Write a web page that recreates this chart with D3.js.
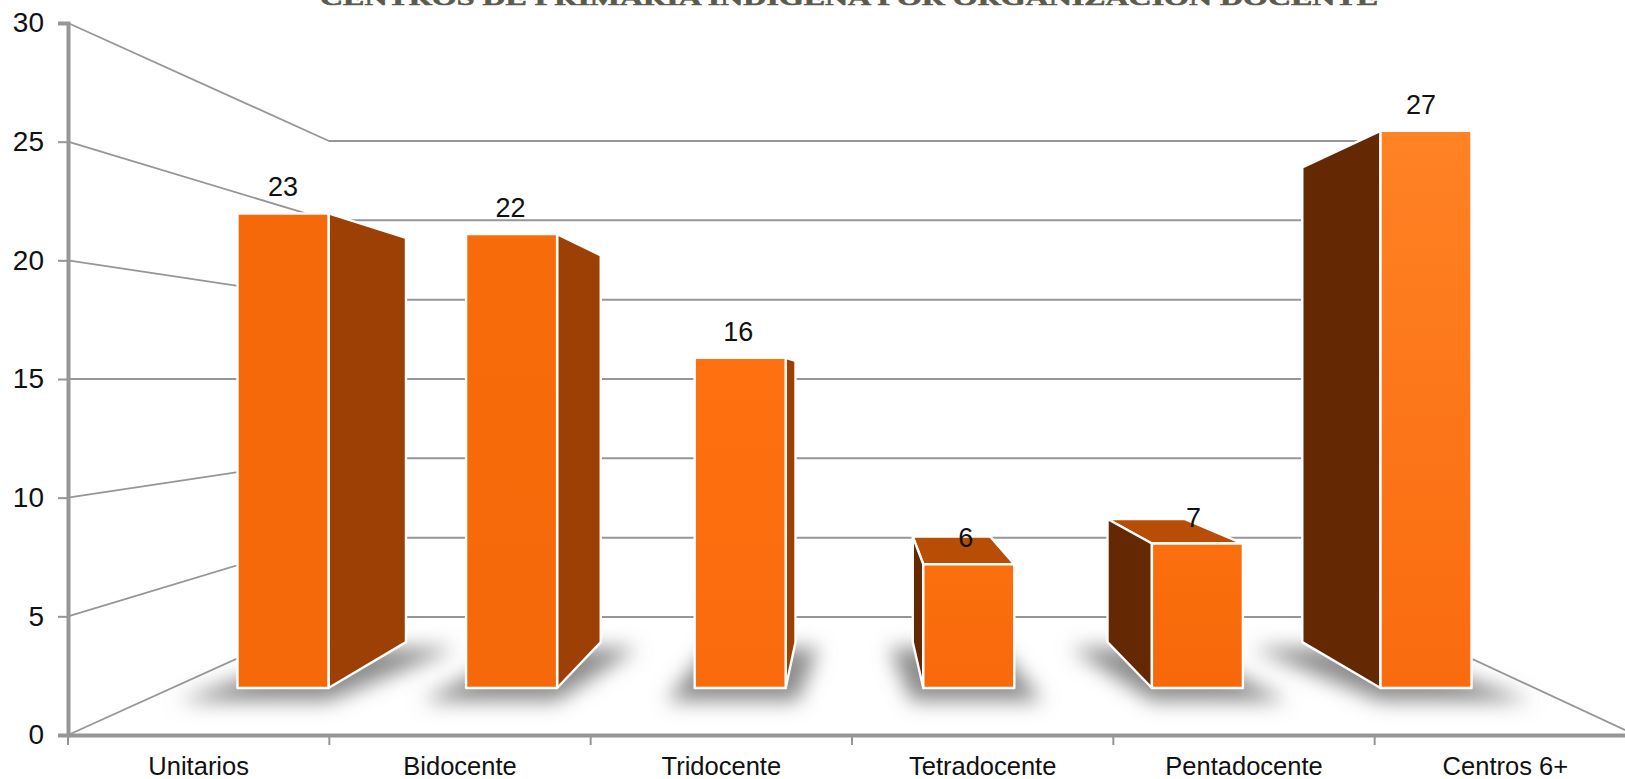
<!DOCTYPE html>
<html><head><meta charset="utf-8">
<script src="https://cdn.jsdelivr.net/npm/d3@7"></script>
<style>html,body{margin:0;background:#fff;overflow:hidden}svg{display:block}text{font-family:"Liberation Sans",Arial,sans-serif;fill:#111}</style>
</head><body><svg id="c" width="1625" height="779"></svg>
<script>
const categories=["Unitarios","Bidocente","Tridocente","Tetradocente","Pentadocente","Centros 6+"];
const values=[23,22,16,6,7,27];
const yTicks=[0,5,10,15,20,25,30];
const titleText="CENTROS DE PRIMARIA INDIGENA POR ORGANIZACIÓN DOCENTE";
const frontTop=["#F5690A","#F76B0B","#FF7010","#FB6F0E","#FB6F0E","#FF8224"];
const frontBottom=["#F5690A","#F5690A","#F96B0D","#F8690B","#F6680A","#F96B0E"];

const svg=d3.select("#c");
const vp=[852,378],depth=0.148;
const wallFront=d3.scaleLinear().domain([0,30]).range([735,23]);
const wallBack=d3.scaleLinear().domain([0,30]).range([617,141]);
const barY=d3.scaleLinear().domain([0,30]).range([688,69]);
const barX=d3.scalePoint().domain(categories).range([283,1426]);
const labelX=d3.scalePoint().domain(categories).range([283,1421]);
const band=d3.scaleBand().domain(categories).range([68,1636]);
const barW=91, axisX=68, backL=329, backR=1382, frontR=1636;
const back=([x,y],t=depth)=>[x+(vp[0]-x)*t,y+(vp[1]-y)*t];
const line=p=>"M"+p.map(q=>q.join(",")).join("L")+"Z";
const grey="#969696";

const defs=svg.append("defs");
defs.append("filter").attr("id","blur").attr("x","-40%").attr("y","-60%").attr("width","180%").attr("height","220%")
 .append("feGaussianBlur").attr("stdDeviation",10);
categories.forEach((c,i)=>{
  const g=defs.append("linearGradient").attr("id","g"+i).attr("x1",0).attr("x2",0).attr("y1",0).attr("y2",1);
  g.append("stop").attr("offset",0).attr("stop-color",frontTop[i]);
  g.append("stop").attr("offset",1).attr("stop-color",frontBottom[i]);
});

// title (cropped by the top edge, as in the reference)
svg.append("text").attr("x",849).attr("y",5).attr("text-anchor","middle")
 .attr("textLength",1058).attr("lengthAdjust","spacingAndGlyphs")
 .style("font-family",'"Liberation Serif",serif').style("font-weight","bold").style("font-size","22px")
 .style("fill","#5b5b4c").style("stroke","#5b5b4c").style("stroke-width",0.6)
 .text(titleText);

// walls
const walls=svg.append("g").attr("fill","none").attr("stroke",grey);
walls.selectAll("line.g").data(yTicks).join("line").attr("class","g")
 .attr("x1",backL).attr("x2",backR).attr("y1",wallBack).attr("y2",wallBack).attr("stroke-width",2);
walls.selectAll("line.l").data(yTicks).join("line").attr("class","l")
 .attr("x1",axisX).attr("x2",backL).attr("y1",wallFront).attr("y2",wallBack).attr("stroke-width",1.8);
walls.append("line").attr("x1",backR).attr("x2",frontR).attr("y1",wallBack(0)).attr("y2",wallFront(0)).attr("stroke-width",1.8);

// shadows
svg.append("g").selectAll("path").data(categories).join("path")
 .attr("filter","url(#blur)")
 .attr("fill","#8c8c8c")
 .attr("d",c=>{
   const x=barX(c),l=x-barW/2,r=x+barW/2,y=barY(0);
   const bl=back([l,y]),br=back([r,y]);
   const offL=Math.max(0,20+(vp[0]-x)*0.07),offR=Math.max(0,20+(x-vp[0])*0.07);
   const backOffL=Math.max(0,16+(x-vp[0])*0.06),backOffR=Math.max(0,16+(vp[0]-x)*0.06);
   return line([[l-offL,y+13],[r+offR,y+13],[br[0]+backOffR,br[1]+6],[bl[0]-backOffL,bl[1]+6]]);
 });

// bars
const bars=svg.append("g").selectAll("g").data(categories).join("g")
 .attr("stroke","#fff").attr("stroke-width",2.4).attr("stroke-linejoin","round");
bars.each(function(c,i){
  const g=d3.select(this),l=barX(c)-barW/2,r=barX(c)+barW/2,t=barY(values[i]),b=barY(0);
  if(t>vp[1]) g.append("path").attr("fill","#B84D05").attr("d",line([[l,t],[r,t],back([r,t]),back([l,t])]));
  if(r<vp[0]) g.append("path").attr("fill","#9C4005").attr("d",line([[r,t],[r,b],back([r,b]),back([r,t])]));
  if(l>vp[0]) g.append("path").attr("fill","#642803").attr("d",line([[l,t],[l,b],back([l,b]),back([l,t])]));
  g.append("rect").attr("x",l).attr("y",t).attr("width",barW).attr("height",b-t).attr("fill",`url(#g${i})`);
});
svg.append("g").selectAll("text").data(categories).join("text")
 .attr("x",c=>labelX(c)).attr("y",(c,i)=>barY(values[i])-17).attr("text-anchor","middle")
 .style("font-size","27px").text((c,i)=>values[i]);

// axes
const ax=svg.append("g").attr("transform",`translate(${axisX},0)`).call(d3.axisLeft(wallFront).tickValues(yTicks).tickSize(10).tickPadding(14));
ax.selectAll(".domain").attr("stroke",grey).attr("stroke-width",4);
ax.selectAll(".tick line").attr("stroke",grey).attr("stroke-width",2);
ax.selectAll("text").style("font-size","28px").attr("fill","#111");
const bx=svg.append("g").attr("transform",`translate(0,${wallFront(0)})`).call(d3.axisBottom(band).tickSize(0).tickPadding(22));
bx.selectAll(".domain").attr("stroke",grey).attr("stroke-width",4);
bx.selectAll("text").style("font-size","25.5px").attr("fill","#111");
svg.append("g").selectAll("line").data(categories).join("line")
 .attr("x1",c=>band(c)).attr("x2",c=>band(c)).attr("y1",wallFront(0)).attr("y2",wallFront(0)+10)
 .attr("stroke",grey).attr("stroke-width",2);
</script></body></html>
